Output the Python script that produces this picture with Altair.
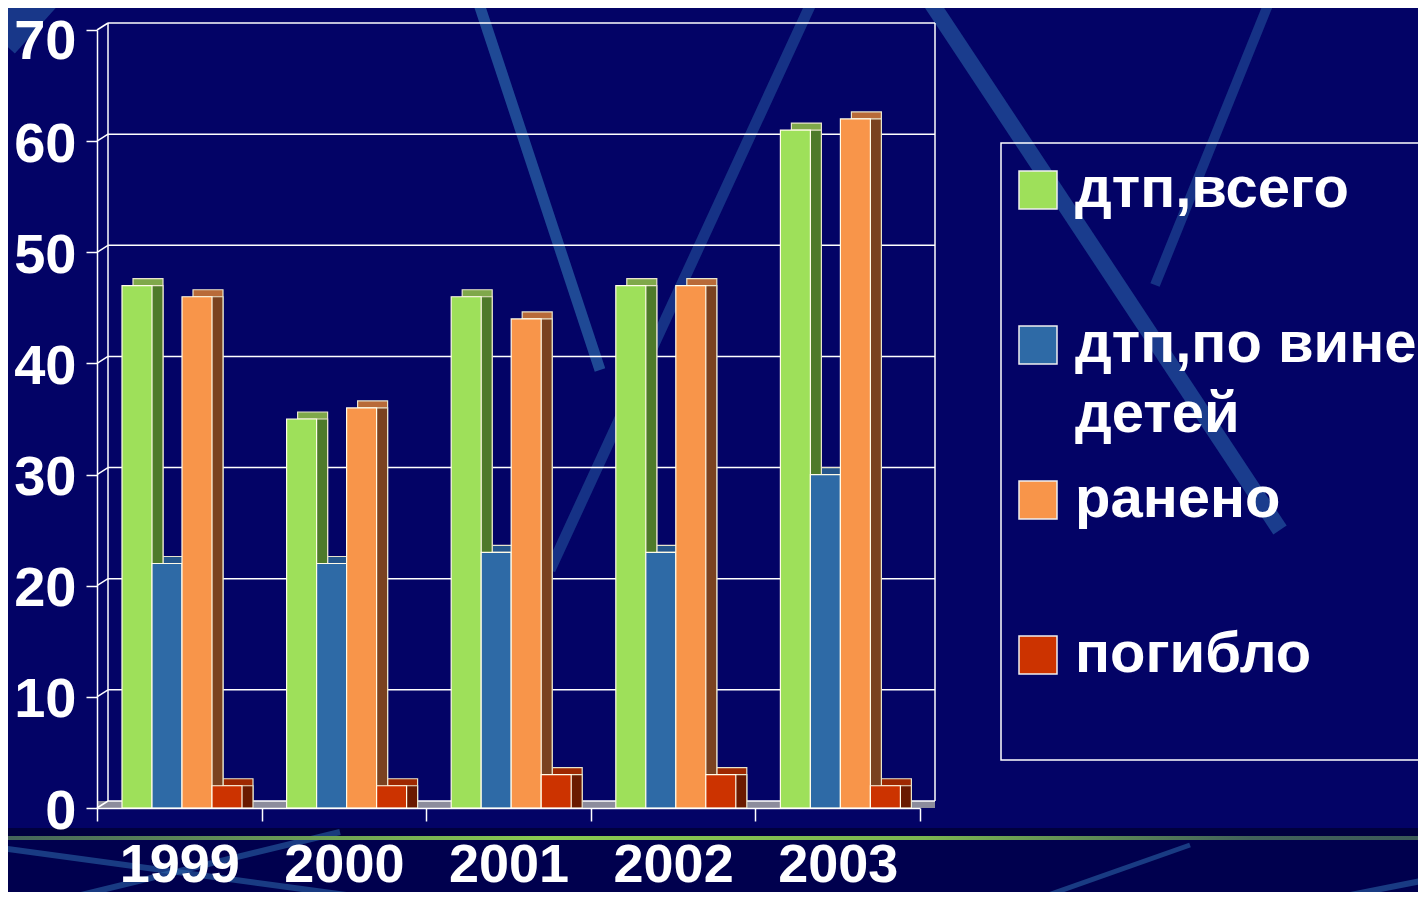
import altair as alt
import pandas as pd

# ---------------- data ----------------
years = ["1999", "2000", "2001", "2002", "2003"]
series = ["дтп,всего", "дтп,по вине детей", "ранено", "погибло"]
dtp_total = [47, 35, 46, 47, 61]
dtp_children = [22, 22, 23, 23, 30]
injured = [46, 36, 44, 47, 62]
killed = [2, 2, 3, 3, 2]
y_ticks = [0, 10, 20, 30, 40, 50, 60, 70]
legend_line1 = ["дтп,всего", "дтп,по вине", "ранено", "погибло"]
legend_line2 = ["", "детей", "", ""]

# ---------------- styles ----------------
front_colors = ["#9ee05a", "#2e6aa6", "#f8954a", "#cc3300"]
top_colors = ["#7fa84a", "#25568c", "#b86a38", "#9e2800"]
side_colors = ["#4e7a2a", "#1c3f6a", "#7a4220", "#6a1a00"]
FONT = "Liberation Sans"
BG = "#030366"
STRIPE = "#2a62a6"

W, H = 823, 778
PAD = {"left": 89, "top": 22, "right": 498, "bottom": 84}
DX, DY = 11, -7
BAR0, GROUP_W = 25, 120

values_by_series = [dtp_total, dtp_children, injured, killed]
rows = []
for s, vals in zip(series, values_by_series):
    for y, v in zip(years, vals):
        rows.append({"year": y, "series": s, "value": v})
df = pd.DataFrame(rows)
ticks_df = pd.DataFrame({"v": y_ticks})
wall_df = pd.DataFrame({"lo": [y_ticks[0]], "hi": [y_ticks[-1]]})
one = pd.DataFrame({"a": [0]})

x_scale = alt.Scale(domain=years, paddingInner=0, paddingOuter=0)
y_scale = alt.Scale(domain=[0, 70], nice=False)

x_axis = alt.Axis(title=None, tickBand="extent", labelAngle=0, zindex=3,
                  labelFont=FONT, labelFontSize=54, labelFontWeight="bold",
                  labelColor="white", tickColor="white", tickSize=13, tickWidth=1.5,
                  domainColor="white", domainWidth=1.5, labelPadding=17)
y_axis = alt.Axis(title=None, values=y_ticks, grid=False, zindex=3,
                  labelFont=FONT, labelFontSize=56, labelFontWeight="bold",
                  labelColor="white", tickColor="white", tickSize=11, tickWidth=1.5,
                  domainColor="white", domainWidth=1.5, labelPadding=10,
                  labelOffset={"condition": {"test": "datum.value >= 70", "value": 11}, "value": 3})

# ---------------- background decoration ----------------
def stripe(x0, y0, x1, y1, w, op=0.7):
    return alt.Chart(one).mark_rule(color=STRIPE, strokeWidth=w, opacity=op, strokeCap="butt").encode(
        x=alt.value(x0 - 97), y=alt.value(y0 - 30), x2=alt.value(x1 - 97), y2=alt.value(y1 - 30))

stripes_top = [
    stripe(0, 40, 45, -10, 40, 0.55),
    stripe(476, -5, 600, 370, 11, 0.75),
    stripe(815, -5, 550, 570, 11, 0.5),
    stripe(926, -5, 1280, 530, 16, 0.6),
    stripe(1272, -5, 1155, 285, 10, 0.5),
]
band_dark = alt.Chart(one).mark_rect(color="#00003e").encode(
    x=alt.value(-PAD["left"]), x2=alt.value(W + PAD["right"]),
    y=alt.value(798), y2=alt.value(806))
band = alt.Chart(one).mark_rect(color="#00004e").encode(
    x=alt.value(-PAD["left"]), x2=alt.value(W + PAD["right"]),
    y=alt.value(810), y2=alt.value(H + PAD["bottom"]))
stripes_bottom = [
    stripe(0, 848, 420, 905, 6, 0.6),
    stripe(40, 905, 340, 832, 6, 0.6),
    stripe(1020, 905, 1190, 845, 5, 0.6),
    stripe(1300, 905, 1426, 880, 6, 0.6),
]
green_line = alt.Chart(one).mark_rect(
    fill=alt.LinearGradient(gradient="linear", x1=0, x2=1, y1=0, y2=0,
                            stops=[alt.GradientStop(color="#45655a", offset=0),
                                   alt.GradientStop(color="#8acb50", offset=0.38),
                                   alt.GradientStop(color="#7cb650", offset=0.65),
                                   alt.GradientStop(color="#42625a", offset=0.88),
                                   alt.GradientStop(color="#3c5a58", offset=1)])).encode(
    x=alt.value(-PAD["left"]), x2=alt.value(W + PAD["right"]),
    y=alt.value(806), y2=alt.value(810))

# ---------------- 3D frame ----------------
floor = alt.Chart(one).mark_rect(color="#8c8c9c", y2Offset=DY).encode(
    x=alt.value(0), x2=alt.value(W + 15),
    y=alt.Y("a:Q", scale=y_scale, axis=y_axis), y2="a:Q")

grid = alt.Chart(ticks_df).mark_rule(color="white", strokeWidth=1.5, yOffset=DY).encode(
    x=alt.value(DX), x2=alt.value(W + 15),
    y=alt.Y("v:Q", scale=y_scale, axis=y_axis))

diag = alt.Chart(ticks_df).mark_rule(color="white", strokeWidth=1.5, y2Offset=DY).encode(
    x=alt.value(0), x2=alt.value(DX),
    y=alt.Y("v:Q", scale=y_scale, axis=y_axis), y2="v:Q")

wall_left = alt.Chart(wall_df).mark_rule(color="white", strokeWidth=1.5, yOffset=DY, y2Offset=DY).encode(
    x=alt.value(DX), y=alt.Y("lo:Q", scale=y_scale, axis=y_axis), y2="hi:Q")
wall_right = alt.Chart(wall_df).mark_rule(color="white", strokeWidth=1.5, yOffset=DY, y2Offset=DY).encode(
    x=alt.value(W + 15), y=alt.Y("lo:Q", scale=y_scale, axis=y_axis), y2="hi:Q")


def bar_face(colors, x0, yoff, stroke):
    return alt.Chart(df).mark_bar(yOffset=yoff, y2Offset=yoff, stroke=stroke,
                                  strokeWidth=1.2, opacity=1).encode(
        x=alt.X("year:N", scale=x_scale, axis=x_axis),
        xOffset=alt.XOffset("series:N", scale=alt.Scale(domain=series, range=[x0, x0 + GROUP_W],
                                                        paddingInner=0, paddingOuter=0)),
        y=alt.Y("value:Q", scale=y_scale, axis=y_axis),
        color=alt.Color("series:N", scale=alt.Scale(domain=series, range=colors), legend=None),
    )


top = bar_face(top_colors, BAR0 + DX, DY, "#e8e4cc")
side = bar_face(side_colors, BAR0 + DX, 0, "#e8e4cc")
front = bar_face(front_colors, BAR0, 0, "#fffbe8")

plot = alt.layer(floor, grid, diag, wall_left, wall_right, top, side, front).resolve_scale(
    xOffset="independent", color="independent")

# ---------------- legend ----------------
leg_df = pd.DataFrame({"series": series, "line1": legend_line1, "line2": legend_line2})
leg_y = alt.Y("series:N", scale=alt.Scale(type="point", domain=series, range=[160, 625], padding=0),
              axis=None)
box = alt.Chart(one).mark_rect(filled=False, stroke="white", strokeWidth=1.5).encode(
    x=alt.value(904), x2=alt.value(1500), y=alt.value(113), y2=alt.value(730))
squares = alt.Chart(leg_df).mark_square(size=1444, filled=True, opacity=1,
                                         stroke="#f0f0f0", strokeWidth=1.5).encode(
    x=alt.value(941), y=leg_y,
    color=alt.Color("series:N", scale=alt.Scale(domain=series, range=front_colors), legend=None))
text1 = alt.Chart(leg_df).mark_text(align="left", baseline="middle", font=FONT, fontSize=58,
                                    fontWeight="bold", color="white").encode(
    x=alt.value(978), y=leg_y, text="line1:N")
text2 = alt.Chart(leg_df).mark_text(align="left", baseline="middle", font=FONT, fontSize=58,
                                    fontWeight="bold", color="white", dy=70).encode(
    x=alt.value(978), y=leg_y, text="line2:N")
legend = alt.layer(box, squares, text1, text2)

chart = alt.layer(*stripes_top, band_dark, band, *stripes_bottom, green_line, plot, legend).resolve_scale(
    y="independent", color="independent").properties(
    width=W, height=H, autosize=alt.AutoSizeParams(type="none"), padding=PAD,
    background=BG).configure_view(stroke=None)

chart.save("out.html", embed_options={"renderer": "svg", "actions": False})
